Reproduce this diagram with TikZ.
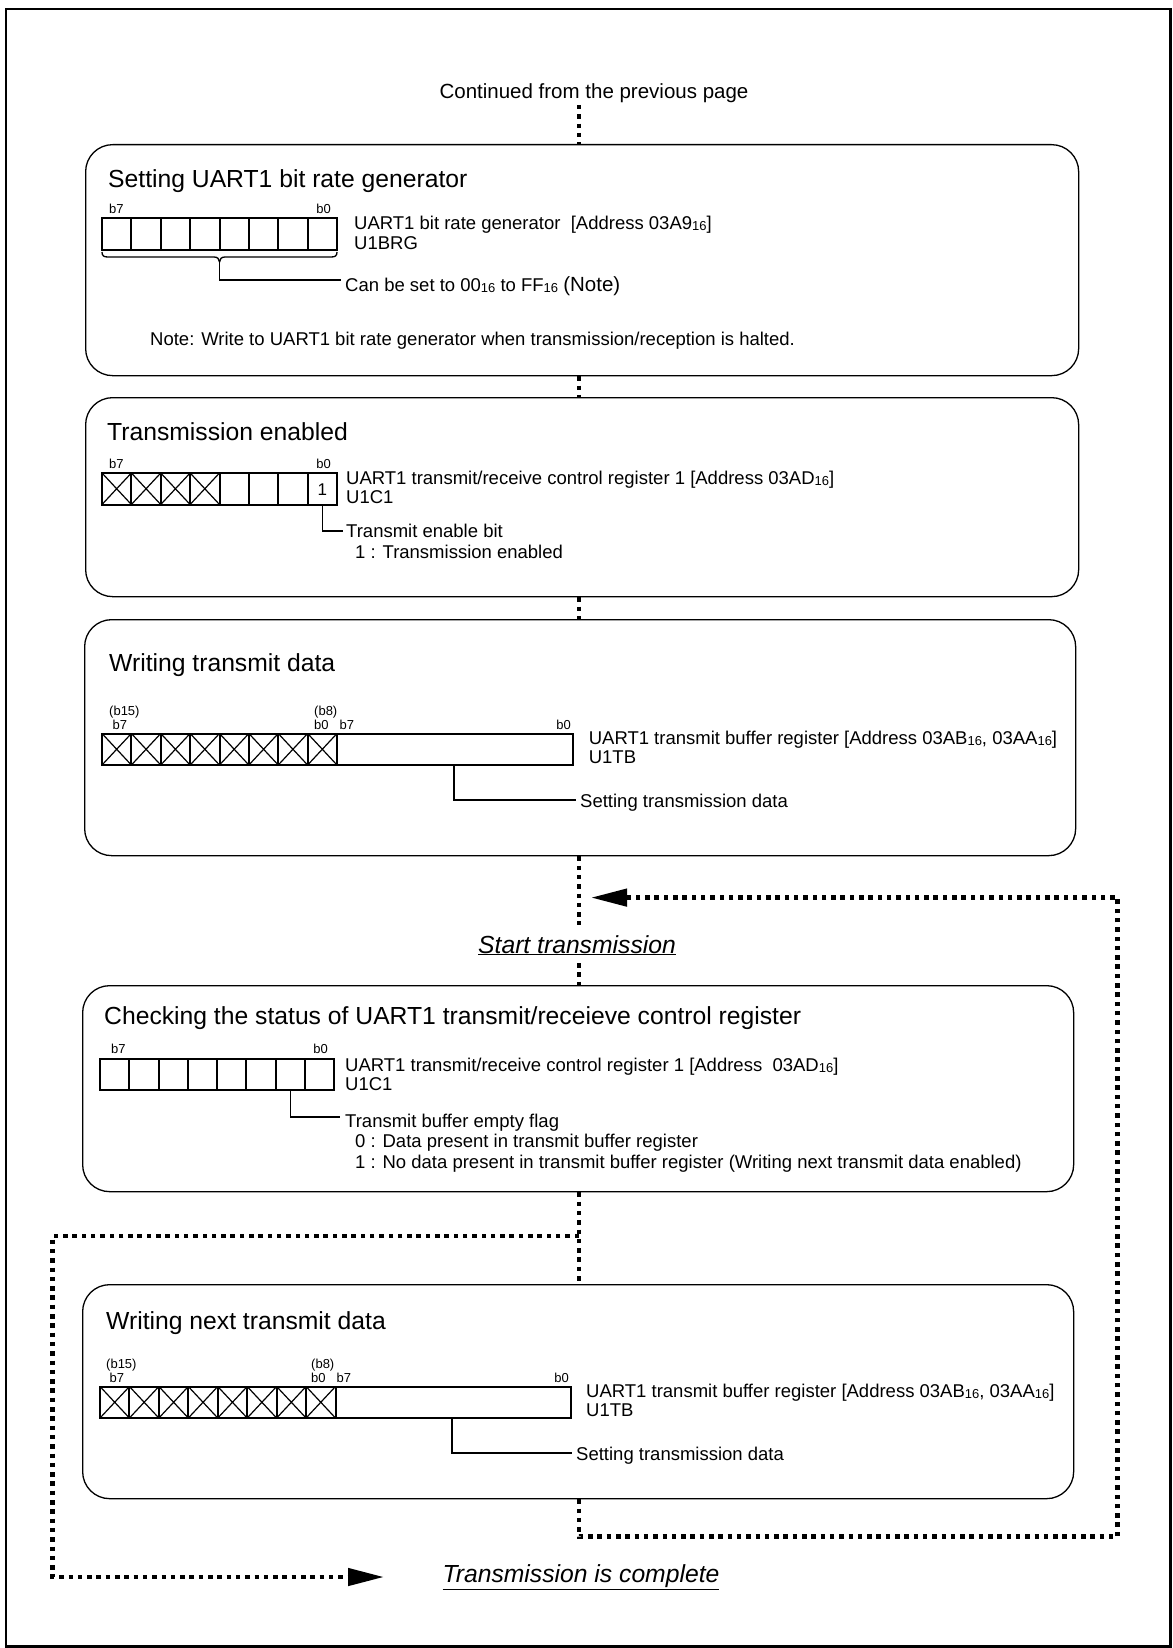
\documentclass[tikz,border=0pt]{standalone}
\usepackage{fontspec}
\setmainfont{Liberation Sans}
\usetikzlibrary{arrows.meta}
\newcommand\sxt{\raisebox{-1pt}{\fontsize{13}{13}\selectfont 16}}
\begin{document}
\begin{tikzpicture}[x=1pt,y=-1pt,
  box/.style={draw=black, line width=1.3pt, rounded corners=27pt, inner sep=0pt, anchor=north west},
  flow/.style={line width=4.5pt, dash pattern=on 4.5pt off 4.8pt},
  arr/.style={-{Triangle[length=36pt,width=17pt]}},
  reg/.style={line width=2pt},
  xl/.style={line width=1.2pt},
  lead/.style={line width=1.3pt},
  txt/.style={inner sep=0pt, anchor=base west, font=\fontsize{18.5}{20}\selectfont},
  ttl/.style={inner sep=0pt, anchor=base west, font=\fontsize{24.7}{28}\selectfont},
  itl/.style={inner sep=0pt, anchor=base, font=\fontsize{24.7}{28}\selectfont\itshape},
  bit/.style={inner sep=0pt, anchor=base west, font=\fontsize{13}{14}\selectfont},
  bitr/.style={bit, anchor=base east}
]
\useasboundingbox (0,0) rectangle (1172,1648);
\draw[line width=2.5pt] (6,9) rectangle (1170.5,1646.5);

% ---------- header
\node[inner sep=0pt, anchor=base, font=\fontsize{20.5}{22}\selectfont] (cont) at (594,99) {Continued from the previous page};

% ---------- boxes
\node[box, minimum width=993pt, minimum height=231pt] (B1) at (85,144) {};
\node[box, minimum width=993pt, minimum height=199pt] (B2) at (85,397) {};
\node[box, minimum width=991pt, minimum height=236pt] (B3) at (84,619) {};
\node[box, minimum width=991pt, minimum height=206pt] (B4) at (82,985) {};
\node[box, minimum width=991pt, minimum height=214pt] (B5) at (82,1284) {};

% ---------- box 1
\node[ttl] (t1) at (108,187.5) {Setting UART1 bit rate generator};
\node[bit] (b1a) at (109,213) {b7};
\node[bitr] (b1b) at (331,213) {b0};
\draw[reg] (102,218) rectangle (337,249.5);
\foreach \i in {1,...,7} \draw[reg] ({102+\i*29.375},218) -- ({102+\i*29.375},249.5);
\node[txt] (r1a) at (354,229.5) {UART1 bit rate generator\ \ [Address 03A9\sxt]};
\node[txt] (r1b) at (354,249.5) {U1BRG};
\draw[lead] (102,252) .. controls (102,256) and (104,257) .. (108,257) -- (214,257)
  .. controls (217.5,257) and (219.5,259) .. (219.5,262)
  .. controls (219.5,259) and (221.5,257) .. (225,257) -- (331,257)
  .. controls (335,257) and (337,256) .. (337,252);
\coordinate (br1) at (219.5,262);
\node[txt] (n1) at (345,291.5) {Can be set to 00\sxt{} to FF\sxt{} {\fontsize{20.5}{22}\selectfont (Note)}};
\coordinate (br1e) at (341,280);
\draw[lead] (br1) |- (br1e);
\node[txt] (note) at (150,345) {Note: Write to UART1 bit rate generator when transmission/reception is halted.};

% ---------- box 2
\node[ttl] (t2) at (107,440) {Transmission enabled};
\node[bit] (b2a) at (109,468) {b7};
\node[bitr] (b2b) at (331,468) {b0};
\draw[reg] (102,473) rectangle (337,504.5);
\foreach \i in {1,...,7} \draw[reg] ({102+\i*29.375},473) -- ({102+\i*29.375},504.5);
\foreach \i in {0,...,3} \draw[xl] ({102+\i*29.375},473) -- ({102+(\i+1)*29.375},504.5) ({102+(\i+1)*29.375},473) -- ({102+\i*29.375},504.5);
\node[inner sep=0pt, anchor=base, font=\fontsize{17}{18}\selectfont] (one) at (322.3,495) {1};
\node[txt] (r2a) at (346,484.5) {UART1 transmit/receive control register 1 [Address 03AD\sxt]};
\node[txt] (r2b) at (346,503.5) {U1C1};
\node[txt] (e2a) at (346,537.5) {Transmit enable bit};
\node[txt] (e2b) at (355,558.5) {1 : Transmission enabled};
\coordinate (l2s) at (322.3,504.5);
\coordinate (l2e) at (343,531);
\draw[lead] (l2s) |- (l2e);

% ---------- box 3
\node[ttl] (t3) at (109,671) {Writing transmit data};
\node[bit] (b3a) at (109,715) {(b15)};
\node[bit] (b3b) at (112.5,729) {b7};
\node[bit] (b3c) at (314,715) {(b8)};
\node[bit] (b3d) at (314,729) {b0};
\node[bit] (b3e) at (339.5,729) {b7};
\node[bitr] (b3f) at (571,729) {b0};
\draw[reg] (102,733.5) rectangle (573,765);
\foreach \i in {1,...,8} \draw[reg] ({102+\i*29.375},733.5) -- ({102+\i*29.375},765);
\foreach \i in {0,...,7} \draw[xl] ({102+\i*29.375},733.5) -- ({102+(\i+1)*29.375},765) ({102+(\i+1)*29.375},733.5) -- ({102+\i*29.375},765);
\node[txt] (r3a) at (588.6,744.5) {UART1 transmit buffer register [Address 03AB\sxt, 03AA\sxt]};
\node[txt] (r3b) at (588.6,763.5) {U1TB};
\node[txt] (s3) at (580,807.5) {Setting transmission data};
\coordinate (l3s) at (454,765);
\coordinate (l3e) at (576,800);
\draw[lead] (l3s) |- (l3e);

% ---------- start transmission
\node[itl] (start) at (577,953) {\underline{Start transmission}};

% ---------- box 4
\node[ttl] (t4) at (104,1024) {Checking the status of UART1 transmit/receieve control register};
\node[bit] (b4a) at (111,1053.5) {b7};
\node[bitr] (b4b) at (328,1053.5) {b0};
\draw[reg] (100,1058.5) rectangle (334,1090);
\foreach \i in {1,...,7} \draw[reg] ({100+\i*29.25},1058.5) -- ({100+\i*29.25},1090);
\node[txt] (r4a) at (345,1071.5) {UART1 transmit/receive control register 1 [Address\ \ 03AD\sxt]};
\node[txt] (r4b) at (345,1090) {U1C1};
\node[txt] (f4a) at (345,1127) {Transmit buffer empty flag};
\node[txt] (f4b) at (355,1147) {0 : Data present in transmit buffer register};
\node[txt] (f4c) at (355,1168) {1 : No data present in transmit buffer register (Writing next transmit data enabled)};
\coordinate (l4s) at (290.4,1090);
\coordinate (l4e) at (340,1117);
\draw[lead] (l4s) |- (l4e);

% ---------- box 5
\node[ttl] (t5) at (106,1329) {Writing next transmit data};
\node[bit] (b5a) at (106,1368) {(b15)};
\node[bit] (b5b) at (109.5,1382) {b7};
\node[bit] (b5c) at (311,1368) {(b8)};
\node[bit] (b5d) at (311,1382) {b0};
\node[bit] (b5e) at (336.5,1382) {b7};
\node[bitr] (b5f) at (569,1382) {b0};
\draw[reg] (100,1386.5) rectangle (571,1418);
\foreach \i in {1,...,8} \draw[reg] ({100+\i*29.4375},1386.5) -- ({100+\i*29.4375},1418);
\foreach \i in {0,...,7} \draw[xl] ({100+\i*29.4375},1386.5) -- ({100+(\i+1)*29.4375},1418) ({100+(\i+1)*29.4375},1386.5) -- ({100+\i*29.4375},1418);
\node[txt] (r5a) at (586,1397.5) {UART1 transmit buffer register [Address 03AB\sxt, 03AA\sxt]};
\node[txt] (r5b) at (586,1416.5) {U1TB};
\node[txt] (s5) at (576,1460.5) {Setting transmission data};
\coordinate (l5s) at (452,1418);
\coordinate (l5e) at (572,1453);
\draw[lead] (l5s) |- (l5e);

% ---------- end
\node[itl] (done) at (581,1582.5) {\underline{Transmission is complete}};

% ---------- flow lines
\coordinate (c0) at (579,105);
\coordinate (s1) at (579,925);
\coordinate (s2) at (579,963);
\coordinate (lj) at (579,1236);
\coordinate (ll) at (52.5,1577);
\coordinate (ltip) at (384,1577);
\coordinate (rb) at (1117.7,1536.7);
\coordinate (rt) at (1117.7,897.6);
\coordinate (tip) at (591,897.6);
\draw[flow] (c0) -- (c0 |- B1.north);
\draw[flow] (B1.south -| c0) -- (B2.north -| c0);
\draw[flow] (B2.south -| c0) -- (B3.north -| c0);
\draw[flow] (B3.south -| c0) -- (s1);
\draw[flow] (s2) -- (B4.north -| c0);
\draw[flow] (B4.south -| c0) -- (B5.north -| c0);
\draw[flow, arr] (lj) -- (lj -| ll) -- (ll) -- (ltip);
\draw[flow, arr] (B5.south -| c0) -- (c0 |- rb) -- (rb) -- (rt) -- (tip);
\end{tikzpicture}
\end{document}
